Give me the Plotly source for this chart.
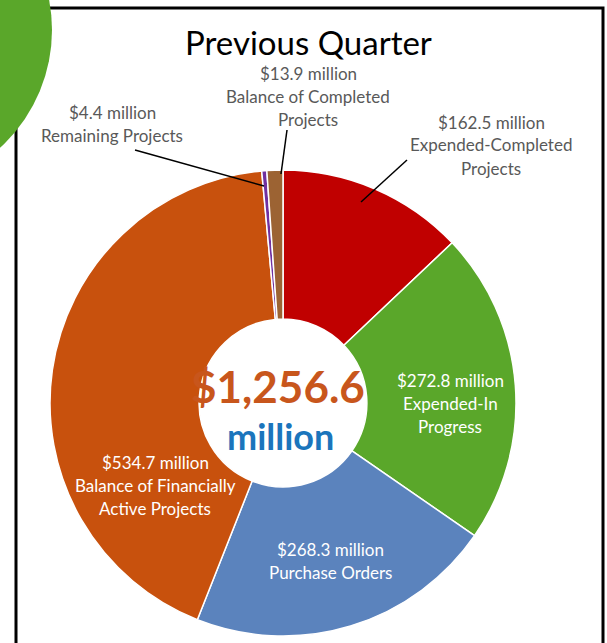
import plotly.graph_objects as go

W, H = 607, 643

# ---- data ----
categories = ["Expended-Completed Projects", "Expended-In Progress", "Purchase Orders",
              "Balance of Financially Active Projects", "Remaining Projects",
              "Balance of Completed Projects"]
values = [162.5, 272.8, 268.3, 534.7, 4.4, 13.9]
colors = ["#C00000", "#5AA72A", "#5B83BD", "#C8510D", "#7030A0", "#9C6333"]
total_text = "$1,256.6"
unit_text = "million"
title_text = "Previous Quarter"

label_lines = [
    ["$162.5 million", "Expended-Completed", "Projects"],
    ["$272.8 million", "Expended-In", "Progress"],
    ["$268.3 million", "Purchase Orders"],
    ["$534.7 million", "Balance of Financially", "Active Projects"],
    ["$4.4 million", "Remaining Projects"],
    ["$13.9 million", "Balance of Completed", "Projects"],
]
# label anchor (pixel centre of first line), colour
label_pos = [(491, 122), (450, 380), (330, 549), (155, 462), (112, 112), (308, 73)]
label_col = ["#595959", "white", "white", "white", "#595959", "#595959"]
leaders = [((407, 160), (361, 202)), ((135, 150), (264, 186)), ((287, 130), (281, 174))]


def px(x):
    return x / W


def py(y):
    return 1 - y / H


fig = go.Figure(go.Pie(
    labels=categories, values=values, sort=False, direction="clockwise", rotation=0,
    hole=0.36, textinfo="none", hoverinfo="label+value",
    marker=dict(colors=colors, line=dict(color="white", width=1.5)),
    domain=dict(x=[px(50), px(516)], y=[py(636), py(170)]),
    showlegend=False,
))

ann = []
for lines, (cx, cy), col in zip(label_lines, label_pos, label_col):
    for i, t in enumerate(lines):
        ann.append(dict(x=px(cx), y=py(cy + 23 * i), xref="paper", yref="paper",
                        text=t, showarrow=False, xanchor="center", yanchor="middle",
                        font=dict(family="Lato", size=17, color=col)))

ann.append(dict(x=px(278), y=py(386), xref="paper", yref="paper", text="<b>%s</b>" % total_text,
                showarrow=False, xanchor="center", yanchor="middle",
                font=dict(family="Lato", size=44, color="#C8561C")))
ann.append(dict(x=px(280), y=py(436), xref="paper", yref="paper", text="<b>%s</b>" % unit_text,
                showarrow=False, xanchor="center", yanchor="middle",
                font=dict(family="Lato", size=36, color="#1B75BC")))
ann.append(dict(x=px(308), y=py(42), xref="paper", yref="paper", text=title_text,
                showarrow=False, xanchor="center", yanchor="middle",
                font=dict(family="Lato", size=33, color="black")))

shapes = [
    dict(type="rect", xref="paper", yref="paper", x0=px(16), x1=px(603), y0=py(660), y1=py(8),
         line=dict(color="black", width=3), layer="above"),
    dict(type="circle", xref="paper", yref="paper", x0=px(-270), x1=px(52), y0=py(190), y1=py(-130),
         fillcolor="#5AA72A", line=dict(width=0), layer="above"),
]
for (x0, y0), (x1, y1) in leaders:
    shapes.append(dict(type="line", xref="paper", yref="paper", x0=px(x0), y0=py(y0),
                       x1=px(x1), y1=py(y1), line=dict(color="black", width=1.5), layer="above"))

fig.update_layout(width=W, height=H, margin=dict(l=0, r=0, t=0, b=0),
                  paper_bgcolor="white", plot_bgcolor="white",
                  annotations=ann, shapes=shapes)

fig.write_html("out.html", config={"displayModeBar": False},
               post_script="document.body.style.margin='0';document.body.style.overflow='hidden';")
